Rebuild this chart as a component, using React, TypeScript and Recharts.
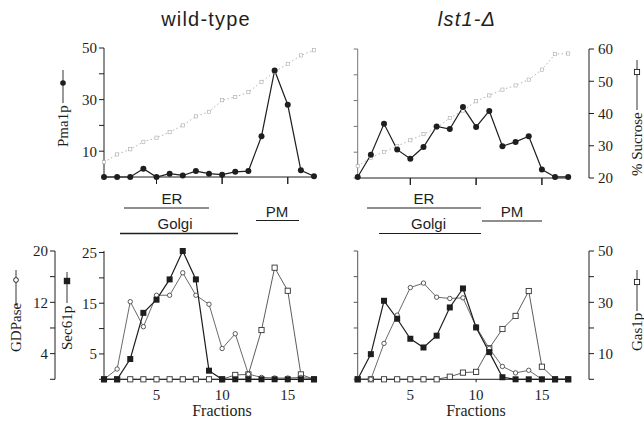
import React from "react";
import { LineChart, Line, XAxis, YAxis, ReferenceLine } from "recharts";

// fractions of the sucrose gradient
const FRACTIONS = [1, 2, 3, 4, 5, 6, 7, 8, 9, 10, 11, 12, 13, 14, 15, 16, 17];
const FRACTION_TICKS = [5, 10, 15];

// top panels: Pma1p (left scale 0-50) and % sucrose (right scale 20-60)
const wtPma1p = [0, 0, 0, 3.2, 0, 1.3, 0.6, 2.3, 1.3, 0.9, 2.0, 2.3, 15.8, 41.3, 28.0, 2.6, 0.3];
const wtSucrose = [24.6, 27.0, 28.6, 30.9, 32.2, 33.9, 36.0, 38.8, 40.2, 43.8, 44.8, 46.3, 49.5, 52.6, 55.1, 57.7, 59.3];
const lstPma1p = [0.4, 9, 21, 11, 7.5, 12, 20, 19, 27.5, 19.8, 26, 12.3, 14, 16.2, 3.3, 0.4, 0.4];
const lstSucrose = [23.7, 26.3, 28.1, 29.9, 31.7, 33.6, 35.5, 38.6, 40.9, 43.8, 45.6, 47.4, 48.7, 50.5, 53.6, 58.4, 58.6];

// bottom panels: Sec61p (0-25), GDPase (0-20), Gas1p (0-50)
const wtSec61p = [0, 0, 4.0, 13.1, 15.7, 19.7, 25.3, 19.7, 1.7, 0, 0, 0, 0, 0, 0, 0, 0];
const wtGDPase = [0, 1.6, 12.1, 8.2, 13.1, 13.1, 16.6, 13.1, 11.7, 4.8, 7.1, 0.8, 0.3, 0.2, 0.2, 0.3, 0.1];
const wtGas1p = [0, 0, 0, 0, 0, 0, 0, 0, 0, 0, 1.7, 1.9, 19.2, 43.5, 34.5, 1.9, 0];
const lstSec61p = [0, 4.9, 15.3, 11.8, 7.9, 6.2, 8.5, 14.0, 17.7, 10.1, 5.3, 0.4, 0, 0, 0, 0, 0];
const lstGDPase = [0, 0, 5.6, 10.0, 14.3, 15.0, 12.8, 12.6, 12.7, 8.2, 4.8, 2.0, 1.0, 1.4, 0, 0, 0];
const lstGas1p = [0, 0, 0, 0, 0, 0, 0, 1.0, 2.6, 2.9, 12.1, 19.6, 24.7, 34.4, 4.9, 0, 0];

const topRows = (pma: number[], suc: number[]) =>
  FRACTIONS.map((f, i) => ({ f, pma: pma[i], suc: suc[i] }));
const bottomRows = (sec: number[], gdp: number[], gas: number[]) =>
  FRACTIONS.map((f, i) => ({ f, sec: sec[i], gdp: gdp[i], gas: gas[i] }));

const SERIF = "'Liberation Serif', 'Times New Roman', serif";
const SANS = "'Liberation Sans', Arial, sans-serif";
const INK = "#1e1e1e";
const tickFont = { fontFamily: SERIF, fontSize: 15, fill: INK };
const blank = () => "\u00a0";

// axis ids: the left axis sorted first sits next to the plot
const SEC = "left1";
const GDP = "left2";

// plot boxes of the two top panels (page px) and their fraction domains
const TOP_LEFT = { x0: 104, x1: 314, d0: 1, d1: 17, axisY: 177 };
const TOP_RIGHT = { x0: 357.7, x1: 589, d0: 1, d1: 18.58, axisY: 178 };

const FilledCircle = (p: any) => <circle key={p.index} cx={p.cx} cy={p.cy} r={3} fill={INK} />;
const OpenCircle = (p: any) => (
  <circle key={p.index} cx={p.cx} cy={p.cy} r={2.2} fill="#fff" stroke="#333" strokeWidth={0.8} />
);
const FilledSquare = (p: any) => (
  <rect key={p.index} x={p.cx - 3} y={p.cy - 3} width={6} height={6} fill={INK} />
);
const OpenSquare = (p: any) => (
  <rect key={p.index} x={p.cx - 2.6} y={p.cy - 2.6} width={5.2} height={5.2} fill="#fff" stroke="#333" strokeWidth={0.9} />
);
const TinySquare = (p: any) => (
  <rect key={p.index} x={p.cx - 1.6} y={p.cy - 1.6} width={3.2} height={3.2} fill="#fff" stroke="#aaa" strokeWidth={0.6} />
);

function SucroseLine() {
  return (
    <Line yAxisId="suc" dataKey="suc" stroke="#aaa" strokeWidth={0.9} strokeDasharray="1.5 2.5"
      dot={TinySquare} isAnimationActive={false} />
  );
}

function BottomLines() {
  return [
    <Line key="gas" yAxisId="gas" dataKey="gas" stroke="#333" strokeWidth={0.8} dot={OpenSquare} isAnimationActive={false} />,
    <Line key="gdp" yAxisId={GDP} dataKey="gdp" stroke="#444" strokeWidth={0.8} dot={OpenCircle} isAnimationActive={false} />,
    <Line key="sec" yAxisId={SEC} dataKey="sec" stroke={INK} strokeWidth={1.2} dot={FilledSquare} isAnimationActive={false} />,
  ];
}

function AxisTitle({ x, y, text, lineFrom, lineTo, mark }: any) {
  // x = baseline, y = bottom end of the rotated text; lineFrom/lineTo/mark are screen y values
  const mx = x - 5;
  return (
    <g>
      <text transform={`translate(${x},${y}) rotate(-90)`} fontFamily={SERIF} fontSize={15} fill={INK}>{text}</text>
      <line x1={mx} x2={mx} y1={lineFrom} y2={lineTo} stroke={INK} strokeWidth={0.9} />
      {mark.type === "fc" && <circle cx={mx} cy={mark.y} r={2.8} fill={INK} />}
      {mark.type === "oc" && <circle cx={mx} cy={mark.y} r={2.4} fill="#fff" stroke={INK} strokeWidth={0.9} />}
      {mark.type === "fs" && <rect x={mx - 3.2} y={mark.y - 3.2} width={6.4} height={6.4} fill={INK} />}
      {mark.type === "os" && <rect x={mx - 2.6} y={mark.y - 2.6} width={5.2} height={5.2} fill="#fff" stroke={INK} strokeWidth={0.9} />}
    </g>
  );
}

// unlabelled downward fraction ticks under a top panel
function TickMarks({ box }: any) {
  const toX = (t: number) => box.x0 + ((t - box.d0) / (box.d1 - box.d0)) * (box.x1 - box.x0);
  return (
    <g>
      {FRACTION_TICKS.map((t) => (
        <line key={t} x1={toX(t)} x2={toX(t)} y1={box.axisY} y2={box.axisY + 7} stroke={INK} strokeWidth={1} />
      ))}
    </g>
  );
}

function Annotations() {
  const band = (x1: number, x2: number, y: number, w = 1.2) => (
    <line x1={x1} x2={x2} y1={y} y2={y} stroke={INK} strokeWidth={w} />
  );
  const lab = (x: number, y: number, s: string) => (
    <text x={x} y={y} textAnchor="middle" fontFamily={SANS} fontSize={15} fill={INK}>{s}</text>
  );
  return (
    <svg width={644} height={426} style={{ position: "absolute", left: 0, top: 0, pointerEvents: "none" }}>
      <text x={206} y={26} textAnchor="middle" fontFamily={SANS} fontSize={20} letterSpacing={1.2} fill={INK}>wild-type</text>
      <text x={467} y={26} textAnchor="middle" fontFamily={SANS} fontSize={20} fontStyle="italic" letterSpacing={1.2} fill={INK}>lst1-Δ</text>

      <TickMarks box={TOP_LEFT} />
      <TickMarks box={TOP_RIGHT} />

      {lab(172, 204, "ER")}{band(124, 209, 208)}
      {lab(175, 229, "Golgi")}{band(120, 238, 233.5, 1.6)}
      {lab(277, 216.5, "PM")}{band(256, 299, 220.5)}
      {lab(424, 204, "ER")}{band(367, 481, 208)}
      {lab(428.5, 229, "Golgi")}{band(379, 481, 233.5)}
      {lab(512, 216.5, "PM")}{band(482, 542, 221)}

      <AxisTitle x={68} y={147} text="Pma1p" lineFrom={103} lineTo={70} mark={{ type: "fc", y: 83 }} />
      <AxisTitle x={642} y={176} text="% Sucrose" lineFrom={110} lineTo={60} mark={{ type: "os", y: 72 }} />
      <AxisTitle x={21} y={352} text="GDPase" lineFrom={306} lineTo={270} mark={{ type: "oc", y: 280 }} />
      <AxisTitle x={72} y={350} text="Sec61p" lineFrom={303} lineTo={272} mark={{ type: "fs", y: 281 }} />
      <AxisTitle x={642} y={351} text="Gas1p" lineFrom={311} lineTo={270} mark={{ type: "os", y: 282 }} />

      <text x={222} y={416} textAnchor="middle" fontFamily={SERIF} fontSize={16} fill={INK}>Fractions</text>
      <text x={476} y={416} textAnchor="middle" fontFamily={SERIF} fontSize={16} fill={INK}>Fractions</text>
    </svg>
  );
}

export default function App() {
  const pos = (left: number, top: number) => ({ position: "absolute" as const, left, top });
  return (
    <div style={{ position: "absolute", left: 0, top: 0, width: 644, height: 426, background: "#fff", overflow: "hidden" }}>
      {/* wild-type, Pma1p */}
      <LineChart width={330} height={200} data={topRows(wtPma1p, wtSucrose)} style={pos(0, 0)}
        margin={{ top: 48, right: 16, bottom: 3, left: 64 }}>
        <XAxis dataKey="f" type="number" domain={[1, 17]} ticks={FRACTION_TICKS} interval={0} tickFormatter={blank}
          tick={tickFont} tickSize={7} height={20} stroke={INK} />
        <YAxis yAxisId="pma" domain={[0, 50]} ticks={[10, 20, 30, 40, 50]} width={40} interval={0}
          tickFormatter={(v) => (v % 20 === 10 ? `${v}` : "")} tick={tickFont} tickSize={5} tickMargin={2} stroke={INK} />
        <YAxis yAxisId="suc" orientation="right" domain={[20, 60]} hide />
        {SucroseLine()}
        <Line yAxisId="pma" dataKey="pma" stroke={INK} strokeWidth={1.2} dot={FilledCircle} isAnimationActive={false} />
      </LineChart>

      {/* lst1-delta, Pma1p */}
      <LineChart width={314} height={200} data={topRows(lstPma1p, lstSucrose)} style={pos(330, 0)}
        margin={{ top: 49, right: 0, bottom: 2, left: 7.7 }}>
        <XAxis dataKey="f" type="number" domain={[1, 18.58]} ticks={FRACTION_TICKS} interval={0} tickFormatter={blank}
          tick={tickFont} axisLine={false} tickSize={7} height={20} stroke={INK} />
        <YAxis yAxisId="pma" domain={[0, 50]} ticks={[0, 10, 20, 30, 40, 50]} interval={0} tickFormatter={blank}
          tick={tickFont} width={20} tickSize={4} stroke="#777" />
        <YAxis yAxisId="suc" orientation="right" domain={[20, 60]} ticks={[20, 30, 40, 50, 60]} width={55} interval={0}
          tick={tickFont} tickSize={5} tickMargin={4} stroke={INK} />
        <ReferenceLine yAxisId="pma" segment={[{ x: 1, y: 0 }, { x: 17.13, y: 0 }]} stroke={INK} />
        {SucroseLine()}
        <Line yAxisId="pma" dataKey="pma" stroke={INK} strokeWidth={1.2} dot={FilledCircle} isAnimationActive={false} />
      </LineChart>

      {/* wild-type, markers */}
      <LineChart width={330} height={196} data={bottomRows(wtSec61p, wtGDPase, wtGas1p)} style={pos(0, 230)}
        margin={{ top: 21, right: 16, bottom: 16.7, left: 25 }}>
        <XAxis dataKey="f" type="number" domain={[1, 17]} ticks={FRACTION_TICKS} interval={0} tick={tickFont}
          tickSize={3} tickMargin={7} height={30} stroke={INK} />
        <YAxis yAxisId={SEC} domain={[0, 25]} ticks={[0, 5, 10, 15, 20, 25]} width={49} interval={0}
          tickFormatter={(v) => (v % 10 === 5 ? `${v}` : "")} tick={tickFont} tickSize={5} tickMargin={2} stroke={INK} />
        <YAxis yAxisId={GDP} domain={[0, 20]} ticks={[0, 4, 8, 12, 16, 20]} width={30} interval={0}
          tickFormatter={(v) => (v % 8 === 4 ? `${v}` : "")} tick={tickFont} tickSize={5} tickMargin={2} stroke={INK} />
        <YAxis yAxisId="gas" orientation="right" domain={[0, 50]} hide />
        {BottomLines()}
      </LineChart>

      {/* lst1-delta, markers */}
      <LineChart width={314} height={196} data={bottomRows(lstSec61p, lstGDPase, lstGas1p)} style={pos(330, 230)}
        margin={{ top: 21, right: 0, bottom: 16.7, left: 7.7 }}>
        <XAxis dataKey="f" type="number" domain={[1, 18.58]} ticks={FRACTION_TICKS} interval={0} tick={tickFont}
          axisLine={false} tickSize={3} tickMargin={7} height={30} stroke={INK} />
        <YAxis yAxisId={SEC} domain={[0, 25]} ticks={[0, 5, 10, 15, 20, 25]} interval={0} tickFormatter={blank}
          tick={tickFont} width={20} tickSize={4} stroke="#555" />
        <YAxis yAxisId={GDP} domain={[0, 20]} hide />
        <YAxis yAxisId="gas" orientation="right" domain={[0, 50]} ticks={[0, 10, 20, 30, 40, 50]} width={55} interval={0}
          tickFormatter={(v) => (v % 20 === 10 ? `${v}` : "")} tick={tickFont} tickSize={5} tickMargin={4} stroke={INK} />
        <ReferenceLine yAxisId={SEC} segment={[{ x: 1, y: 0 }, { x: 17.13, y: 0 }]} stroke={INK} />
        {BottomLines()}
      </LineChart>

      <Annotations />
    </div>
  );
}
